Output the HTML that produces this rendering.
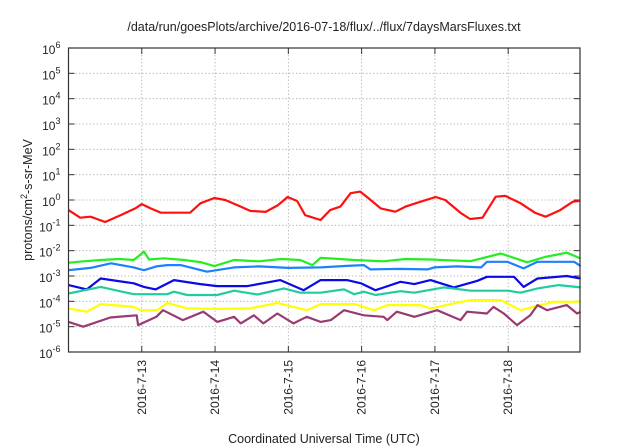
<!DOCTYPE html>
<html><head><meta charset="utf-8"><style>
html,body{margin:0;padding:0;background:#fff;}
svg{display:block;font-family:"Liberation Sans",sans-serif;}
</style></head><body>
<svg id="chart" width="640" height="448" viewBox="0 0 640 448"></svg>
<script>
// x in days since 2016-07-12 00:00, y in log10(flux)
const dayLabels = ["2016-7-13","2016-7-14","2016-7-15","2016-7-16","2016-7-17","2016-7-18"];
const yExps = [-6,-5,-4,-3,-2,-1,0,1,2,3,4,5,6];
const redT = [0,0.16,0.3,0.5,0.71,0.91,1.0,1.12,1.26,1.66,1.8,1.99,2.14,2.35,2.48,2.69,2.86,2.99,3.12,3.23,3.44,3.57,3.71,3.85,3.98,4.09,4.26,4.46,4.6,4.8,5.01,5.14,5.35,5.48,5.65,5.83,5.96,6.17,6.37,6.51,6.71,6.88,6.98];
const redV = [-0.40,-0.70,-0.66,-0.87,-0.6,-0.33,-0.16,-0.33,-0.5,-0.5,-0.13,0.08,0.0,-0.26,-0.43,-0.47,-0.2,0.12,-0.04,-0.6,-0.79,-0.4,-0.26,0.27,0.33,0.08,-0.33,-0.46,-0.26,-0.07,0.12,0,-0.51,-0.75,-0.7,0.13,0.16,-0.13,-0.51,-0.66,-0.4,-0.07,-0.03];
const greenT = [0,0.2,0.44,0.7,0.89,1.03,1.1,1.3,1.58,1.8,1.99,2.26,2.6,2.9,3.16,3.33,3.44,3.7,3.9,4.3,4.6,4.94,5.2,5.49,5.9,6.26,6.5,6.8,6.99];
const greenV = [-2.48,-2.42,-2.37,-2.33,-2.37,-2.04,-2.35,-2.3,-2.37,-2.45,-2.61,-2.37,-2.42,-2.33,-2.37,-2.57,-2.28,-2.33,-2.37,-2.42,-2.33,-2.35,-2.38,-2.41,-2.11,-2.46,-2.25,-2.08,-2.31];
const lblueT = [0,0.3,0.58,0.89,1.03,1.2,1.35,1.53,1.89,2.26,2.6,3.0,3.44,3.8,4.03,4.12,4.5,4.9,4.99,5.3,5.63,5.71,5.99,6.21,6.4,6.9,6.99];
const lblueV = [-2.77,-2.68,-2.5,-2.66,-2.77,-2.62,-2.57,-2.57,-2.83,-2.66,-2.62,-2.68,-2.66,-2.6,-2.57,-2.74,-2.72,-2.74,-2.66,-2.62,-2.66,-2.44,-2.44,-2.7,-2.44,-2.44,-2.61];
const blueT = [0,0.25,0.44,0.89,1.03,1.19,1.44,1.8,2.03,2.44,2.89,3.21,3.44,3.8,3.99,4.19,4.53,4.72,4.94,5.26,5.58,5.71,6.08,6.21,6.4,6.8,6.99];
const blueV = [-3.36,-3.53,-3.1,-3.29,-3.43,-3.53,-3.16,-3.32,-3.4,-3.4,-3.16,-3.56,-3.16,-3.16,-3.29,-3.56,-3.23,-3.32,-3.16,-3.45,-3.19,-3.03,-3.03,-3.43,-3.1,-3.0,-3.1];
const tealT = [0,0.44,0.89,1.35,1.44,1.62,2.03,2.26,2.58,2.94,3.16,3.44,3.76,3.9,4.03,4.19,4.53,4.72,5.12,5.49,5.99,6.17,6.4,6.69,6.99];
const tealV = [-3.69,-3.43,-3.72,-3.72,-3.62,-3.75,-3.75,-3.58,-3.73,-3.49,-3.66,-3.66,-3.53,-3.72,-3.62,-3.75,-3.6,-3.66,-3.45,-3.58,-3.58,-3.66,-3.49,-3.36,-3.45];
const yellowT = [0,0.25,0.44,0.89,0.98,1.21,1.35,1.62,2.0,2.48,2.85,3.25,3.44,3.9,4.17,4.35,4.8,4.94,5.26,5.49,5.9,6.17,6.62,6.99];
const yellowV = [-4.28,-4.41,-4.11,-4.22,-4.35,-4.35,-4.06,-4.28,-4.3,-4.28,-4.06,-4.35,-4.11,-4.11,-4.35,-4.15,-4.15,-4.28,-4.08,-3.95,-3.95,-4.35,-4.02,-4.02];
const purpleT = [0,0.2,0.57,0.93,0.95,1.2,1.29,1.56,1.84,2.03,2.26,2.35,2.53,2.66,2.85,3.07,3.25,3.44,3.58,3.76,4.03,4.3,4.35,4.48,4.72,5.03,5.35,5.44,5.71,5.8,5.94,6.12,6.3,6.4,6.53,6.8,6.94,6.99];
const purpleV = [-4.81,-5.0,-4.64,-4.55,-4.94,-4.61,-4.35,-4.74,-4.41,-4.81,-4.61,-4.87,-4.55,-4.87,-4.48,-4.87,-4.61,-4.81,-4.74,-4.35,-4.55,-4.61,-4.74,-4.41,-4.61,-4.35,-4.74,-4.41,-4.48,-4.22,-4.48,-4.94,-4.55,-4.15,-4.35,-4.15,-4.48,-4.41];

const L=68.5,R=580,T=48,B=352,D0=0,D1=6.98;
const xs=d=>L+(d-D0)/(D1-D0)*(R-L);
const ys=v=>T+(6-v)/12*(B-T);
const svg=document.getElementById('chart');
const NS='http://www.w3.org/2000/svg';
function mk(tag,attrs,parent){const e=document.createElementNS(NS,tag);for(const k in attrs)e.setAttribute(k,attrs[k]);(parent||svg).appendChild(e);return e;}

// grid
yExps.forEach(v=>{
  const y=ys(v);
  if(v>-6&&v<6){
    const g=mk('line',{x1:L,x2:R,y1:y,y2:y,stroke:'#b0b0b0','stroke-width':0.8,'stroke-dasharray':'1.5,2'});
    
    
  }
  mk('line',{x1:L,x2:L+6,y1:y,y2:y,stroke:'#333','stroke-width':1});
  mk('line',{x1:R-6,x2:R,y1:y,y2:y,stroke:'#333','stroke-width':1});
  const t=mk('text',{x:L-8,y:y+6,'text-anchor':'end','font-size':12,fill:'#222'});
  
  
  t.textContent='10';
  const s=mk('tspan',{dy:-6,'font-size':9},t);s.textContent=String(v);
});
dayLabels.forEach((lab,i)=>{
  const x=xs(i+1);
  const g=mk('line',{x1:x,x2:x,y1:T,y2:B,stroke:'#b0b0b0','stroke-width':0.8,'stroke-dasharray':'1.5,2'});
  
  
  mk('line',{x1:x,x2:x,y1:B-6,y2:B,stroke:'#333','stroke-width':1});
  mk('line',{x1:x,x2:x,y1:T,y2:T+6,stroke:'#333','stroke-width':1});
  const t=mk('text',{x:0,y:0,'text-anchor':'end','font-size':12,fill:'#222',transform:`translate(${x+4},${B+8}) rotate(-90)`});
  
  
  t.textContent=lab;
});

const series=[[redT,redV,'#ff1010','red'],[greenT,greenV,'#22ee22','green'],[lblueT,lblueV,'#1e7fff','light-blue'],[blueT,blueV,'#0a0ae8','blue'],[tealT,tealV,'#22cc9c','teal'],[yellowT,yellowV,'#ffff00','yellow'],[purpleT,purpleV,'#993a70','purple']];
series.forEach(([t,v,c,n])=>{
  const d=t.map((d,i)=>(i?'L':'M')+xs(d).toFixed(1)+','+ys(v[i]).toFixed(1)).join('');
  const p=mk('path',{d:d,fill:'none',stroke:c,'stroke-width':2.2,'stroke-linejoin':'round'});
  
  
});

const fr=mk('rect',{x:L,y:T,width:R-L,height:B-T,fill:'none',stroke:'#333','stroke-width':1.2});



const title=mk('text',{x:324,y:31,'text-anchor':'middle','font-size':12.5,fill:'#222'});


title.textContent='/data/run/goesPlots/archive/2016-07-18/flux/../flux/7daysMarsFluxes.txt';

const xt=mk('text',{x:324,y:443,'text-anchor':'middle','font-size':12.5,fill:'#222'});


xt.textContent='Coordinated Universal Time (UTC)';

const yt=mk('text',{x:0,y:0,'text-anchor':'middle','font-size':12.5,fill:'#222',transform:'translate(32,200) rotate(-90)'});


yt.textContent='protons/cm';
const sup=mk('tspan',{dy:-5,'font-size':9},yt);sup.textContent='2';
const rest=mk('tspan',{dy:5},yt);rest.textContent='-s-sr-MeV';
</script>
</body></html>
